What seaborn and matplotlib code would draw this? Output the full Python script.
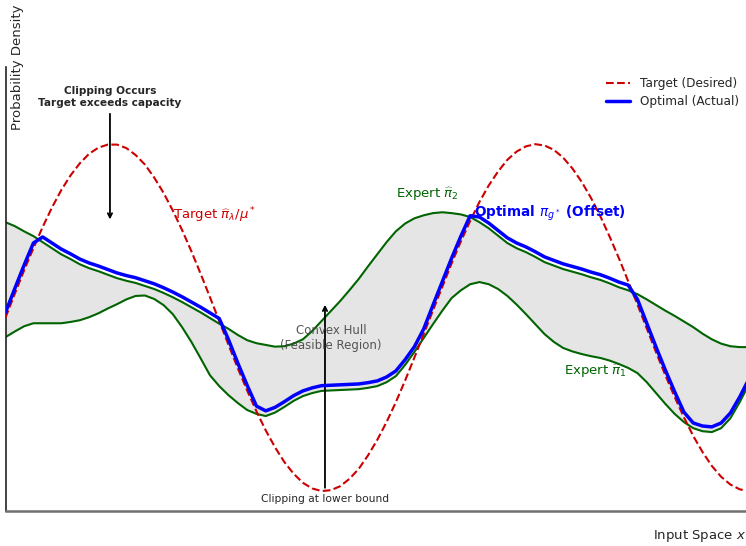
import numpy as np
import pandas as pd
import matplotlib
matplotlib.use("Agg")
import matplotlib.pyplot as plt
import seaborn as sns

# input grid and curves
x_grid = np.linspace(0, 10, 81)

target = [0.500, 0.555, 0.609, 0.660, 0.709, 0.754, 0.794, 0.828, 0.856, 0.878,
          0.892, 0.899, 0.899, 0.891, 0.875, 0.853, 0.823, 0.788, 0.747, 0.702,
          0.653, 0.601, 0.547, 0.492, 0.437, 0.383, 0.332, 0.284, 0.240, 0.201,
          0.167, 0.140, 0.119, 0.106, 0.100, 0.102, 0.111, 0.128, 0.151, 0.182,
          0.218, 0.259, 0.305, 0.355, 0.408, 0.462, 0.517, 0.571, 0.625, 0.676,
          0.723, 0.767, 0.805, 0.837, 0.864, 0.883, 0.895, 0.900, 0.897, 0.887,
          0.869, 0.844, 0.813, 0.776, 0.734, 0.687, 0.637, 0.584, 0.530, 0.475,
          0.420, 0.367, 0.317, 0.270, 0.227, 0.190, 0.158, 0.133, 0.115, 0.104,
          0.100]

expert_upper = [0.720, 0.711, 0.699, 0.688, 0.674, 0.660, 0.646, 0.635, 0.623, 0.614,
                0.607, 0.599, 0.591, 0.585, 0.580, 0.573, 0.566, 0.557, 0.547, 0.536,
                0.524, 0.512, 0.499, 0.486, 0.474, 0.460, 0.448, 0.441, 0.437, 0.433,
                0.434, 0.440, 0.450, 0.469, 0.492, 0.515, 0.538, 0.563, 0.589, 0.618,
                0.646, 0.674, 0.699, 0.717, 0.729, 0.736, 0.741, 0.743, 0.741, 0.738,
                0.732, 0.720, 0.706, 0.689, 0.672, 0.660, 0.651, 0.640, 0.628, 0.620,
                0.612, 0.606, 0.600, 0.593, 0.587, 0.579, 0.570, 0.563, 0.554, 0.542,
                0.529, 0.516, 0.504, 0.491, 0.478, 0.463, 0.450, 0.440, 0.434, 0.432,
                0.432]

expert_lower = [0.455, 0.468, 0.480, 0.487, 0.487, 0.487, 0.487, 0.490, 0.494, 0.501,
                0.510, 0.521, 0.531, 0.542, 0.550, 0.551, 0.543, 0.529, 0.508, 0.478,
                0.444, 0.406, 0.367, 0.342, 0.321, 0.303, 0.287, 0.278, 0.273, 0.281,
                0.294, 0.308, 0.319, 0.326, 0.331, 0.332, 0.333, 0.334, 0.335, 0.338,
                0.342, 0.351, 0.365, 0.391, 0.421, 0.453, 0.485, 0.516, 0.545, 0.563,
                0.577, 0.582, 0.577, 0.566, 0.550, 0.530, 0.508, 0.485, 0.462, 0.444,
                0.430, 0.422, 0.416, 0.411, 0.407, 0.401, 0.393, 0.384, 0.372, 0.351,
                0.326, 0.301, 0.278, 0.259, 0.245, 0.238, 0.236, 0.245, 0.268, 0.305,
                0.347]

offset = 0.012

df = pd.DataFrame({
    "x": x_grid,
    "target": target,
    "upper": expert_upper,
    "lower": expert_lower,
})
df["optimal"] = np.clip(df["target"], df["lower"], df["upper"]) + offset

sns.set_style("white")
plt.rcParams["font.family"] = ["DejaVu Sans"]

red = "#cc0000"
green = "#006400"

fig = plt.figure(figsize=(7.46, 5.46), dpi=100)
ax = fig.add_axes([5.5 / 746, 35 / 546, 743.5 / 746, 444 / 546])

ax.fill_between(df["x"], df["lower"], df["upper"], color="gray", alpha=0.2, linewidth=0, zorder=1)
sns.lineplot(data=df, x="x", y="upper", ax=ax, color=green, linewidth=1.5, zorder=2)
sns.lineplot(data=df, x="x", y="lower", ax=ax, color=green, linewidth=1.5, zorder=2)
sns.lineplot(data=df, x="x", y="target", ax=ax, color=red, linewidth=1.5,
             linestyle="--", label="Target (Desired)", zorder=3)
sns.lineplot(data=df, x="x", y="optimal", ax=ax, color="blue", linewidth=2.5,
             label="Optimal (Actual)", zorder=4)

ax.set_xlim(0, 10)
ax.set_ylim(0.054, 1.078)
ax.set_xticks([])
ax.set_yticks([])
sns.despine(ax=ax)
ax.spines["left"].set_color("#222222")
ax.spines["left"].set_linewidth(1.2)
ax.spines["bottom"].set_color("#707070")
ax.spines["bottom"].set_linewidth(1.8)

ax.set_xlabel("Input Space $x$", fontsize=9.5)
ax.xaxis.set_label_coords(0.9334, -0.0563)
ax.xaxis.label.set_va("center")
ax.set_ylabel("Probability Density", fontsize=9.5)
ax.yaxis.set_label_coords(0.0168, 1.0)
ax.yaxis.label.set_va("center")

# annotations
ax.annotate("Clipping Occurs\nTarget exceeds capacity", xy=(1.405, 0.720), xytext=(1.405, 0.984),
            ha="center", va="bottom", fontsize=7.6, fontweight="bold",
            arrowprops=dict(arrowstyle="->", color="black", lw=1.3))
ax.annotate("Clipping at lower bound", xy=(4.297, 0.536), xytext=(4.297, 0.082),
            ha="center", va="center", fontsize=7.7,
            arrowprops=dict(arrowstyle="->", color="black", lw=1.3))
ax.text(4.378, 0.453, "Convex Hull\n(Feasible Region)", ha="center", va="center",
        fontsize=8.5, color="#444444", alpha=0.9)
ax.text(2.253, 0.736, r"Target $\widehat{\pi}_\lambda/\mu^*$", ha="left", va="center",
        fontsize=9.5, color=red)
ax.text(5.252, 0.785, r"Expert $\widehat{\pi}_2$", ha="left", va="center",
        fontsize=9.5, color=green)
ax.text(7.512, 0.377, r"Expert $\widehat{\pi}_1$", ha="left", va="center",
        fontsize=9.5, color=green)
ax.text(6.301, 0.741, r"Optimal $\pi_{g^*}$ (Offset)", ha="left", va="center",
        fontsize=9.8, color="blue", fontweight="bold")

ax.legend(loc="upper right", bbox_to_anchor=(1.001, 1.002), frameon=False,
          fontsize=8.7, handlelength=2.0, labelspacing=0.4)

fig.savefig("out.png", dpi=100)
